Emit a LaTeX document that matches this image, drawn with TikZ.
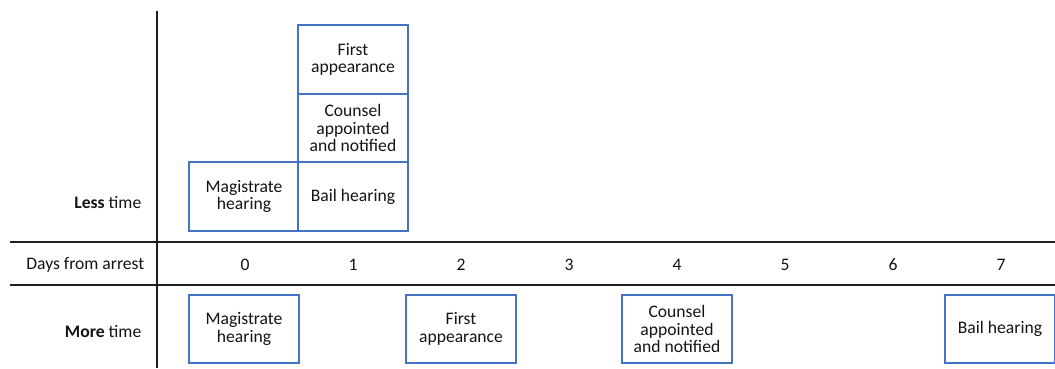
\documentclass[tikz,border=0pt]{standalone}
\usepackage{fontspec}
\setmainfont{Carlito}
\usepackage{xcolor}
\usepackage{tikz}
\usetikzlibrary{positioning}
\definecolor{BoxBlue}{HTML}{4472C4}
\definecolor{Rule}{HTML}{1F1F1F}
\definecolor{Ink}{HTML}{141414}

\begin{document}
\begin{tikzpicture}[x=0.75pt,y=-0.75pt,
  event/.style={draw=BoxBlue,line width=1.6pt,fill=white,minimum width=82pt,minimum height=51.5pt,inner sep=1pt,align=center,text=Ink,font=\fontsize{13.2}{13.2}\selectfont},
  rowlabel/.style={anchor=east,text=Ink,font=\fontsize{13.2}{13.2}\selectfont},
  daynum/.style={text=Ink,font=\fontsize{13.2}{13.2}\selectfont}]
\useasboundingbox (0,0) rectangle (1055,368);
% axes
\draw[Rule,line width=1.2pt] (157,11) -- (157,368);
\draw[Rule,line width=1.2pt] (10,242) -- (1055,242);
\draw[Rule,line width=1.2pt] (10,285) -- (1055,285);
% row labels
\node[rowlabel] (less) at (146,202) {\textbf{Less} time};
\node[rowlabel] (days) at (149,265) {Days from arrest};
\node[rowlabel] (more) at (146,331) {\textbf{More} time};
% day scale
\foreach \d in {0,...,7}
  \node[daynum] (d\d) at (245+108*\d,265) {\d};
% less time: everything in the first two days
\node[event] (lmag) at (244,196.5) {Magistrate\\hearing};
\node[event] (lbail) at (353,196.5) {Bail hearing};
\node[event] (lcoun) at (353,128) {Counsel\\appointed\\and notified};
\node[event] (lfirst) at (353,59.5) {First\\appearance};
% more time: spread over the week
\node[event] (mmag) at (244,329) {Magistrate\\hearing};
\node[event] (mfirst) at (461,329) {First\\appearance};
\node[event] (mcoun) at (677,329) {Counsel\\appointed\\and notified};
\node[event] (mbail) at (1000,329) {Bail hearing};
\end{tikzpicture}
\end{document}
